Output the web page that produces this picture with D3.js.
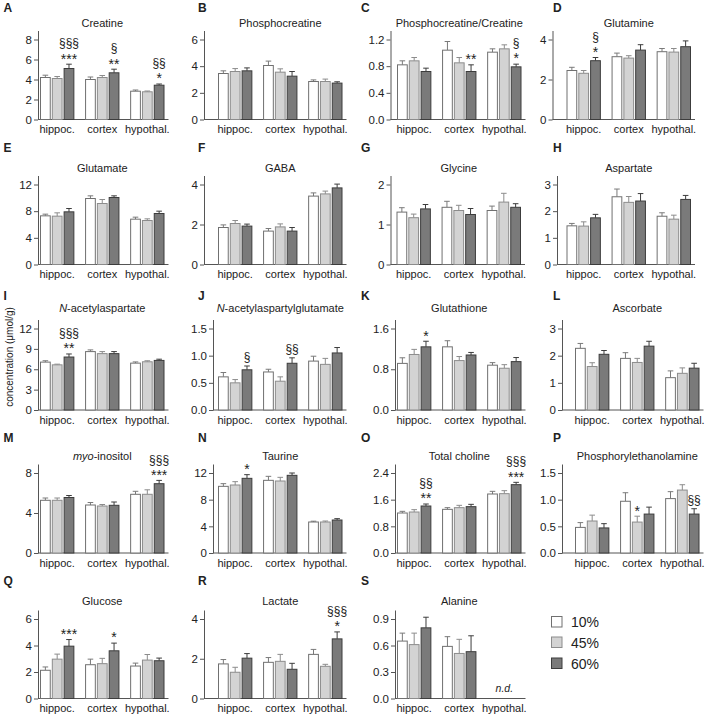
<!DOCTYPE html>
<html><head><meta charset="utf-8">
<script src="https://cdn.jsdelivr.net/npm/d3@7"></script>
<style>body{margin:0;background:#fff}svg{display:block;font-family:"Liberation Sans",Arial,sans-serif}</style>
</head><body><div id="chart"></div>
<script>
// ---------- DATA ----------
const regions = ["hippoc.", "cortex", "hypothal."];
const diets = ["10%", "45%", "60%"];
const letters = ["A","B","C","D","E","F","G","H","I","J","K","L","M","N","O","P","Q","R","S"];
const titles = ["Creatine","Phosphocreatine","Phosphocreatine/Creatine","Glutamine","Glutamate","GABA","Glycine","Aspartate",
  "N-acetylaspartate","N-acetylaspartylglutamate","Glutathione","Ascorbate","myo-inositol","Taurine","Total choline",
  "Phosphorylethanolamine","Glucose","Lactate","Alanine"];
const ticks = [[0,2,4,6,8],[0,2,4,6],[0,0.4,0.8,1.2],[0,2,4],[0,4,8,12],[0,2,4],[0,1,2],[0,1,2,3],
  [0,3,6,9,12],[0,0.5,1.0,1.5],[0,0.8,1.6],[0,1,2,3],[0,4,8],[0,4,8,12],[0,0.8,1.6,2.4],[0,0.5,1.0,1.5],
  [0,2,4,6],[0,2,4],[0,0.3,0.6,0.9]];
// means [region][diet], errors (SEM) [region][diet]
const creatineMean = [[4.2,4.1,5.1],[4.0,4.2,4.67],[2.83,2.77,3.43]];
const creatineErr  = [[0.23,0.2,0.43],[0.25,0.2,0.36],[0.12,0.08,0.12]];
const pcrMean = [[3.45,3.6,3.65],[4.05,3.55,3.25],[2.85,2.85,2.73]];
const pcrErr  = [[0.2,0.22,0.22],[0.33,0.25,0.35],[0.12,0.18,0.1]];
const pcrCrMean = [[0.82,0.88,0.72],[1.04,0.85,0.72],[1.01,1.06,0.79]];
const pcrCrErr  = [[0.06,0.05,0.05],[0.13,0.08,0.1],[0.05,0.06,0.04]];
const glnMean = [[2.45,2.31,2.94],[3.14,3.07,3.47],[3.39,3.37,3.64]];
const glnErr  = [[0.16,0.14,0.16],[0.18,0.12,0.27],[0.16,0.18,0.29]];
const gluMean = [[7.3,7.25,7.9],[9.9,9.15,10.05],[6.8,6.6,7.65]];
const gluErr  = [[0.25,0.5,0.5],[0.4,0.6,0.25],[0.3,0.25,0.35]];
const gabaMean = [[1.85,2.05,1.92],[1.67,1.88,1.67],[3.42,3.53,3.83]];
const gabaErr  = [[0.13,0.15,0.1],[0.13,0.15,0.18],[0.16,0.14,0.19]];
const glyMean = [[1.31,1.17,1.39],[1.43,1.35,1.25],[1.35,1.56,1.43]];
const glyErr  = [[0.11,0.09,0.11],[0.15,0.13,0.15],[0.11,0.22,0.09]];
const aspMean = [[1.45,1.44,1.75],[2.54,2.33,2.38],[1.81,1.7,2.44]];
const aspErr  = [[0.09,0.16,0.13],[0.29,0.22,0.28],[0.13,0.15,0.15]];
const naaMean = [[7.05,6.65,7.8],[8.6,8.3,8.3],[6.9,7.1,7.3]];
const naaErr  = [[0.2,0.1,0.45],[0.25,0.3,0.3],[0.18,0.15,0.18]];
const naagMean = [[0.61,0.5,0.74],[0.7,0.53,0.86],[0.9,0.84,1.05]];
const naagErr  = [[0.08,0.06,0.07],[0.05,0.08,0.1],[0.09,0.11,0.1]];
const gshMean = [[0.915,1.09,1.24],[1.24,0.97,1.08],[0.88,0.82,0.95]];
const gshErr  = [[0.11,0.1,0.11],[0.12,0.08,0.05],[0.05,0.07,0.08]];
const ascMean = [[2.27,1.6,2.05],[1.9,1.75,2.35],[1.19,1.35,1.54]];
const ascErr  = [[0.18,0.14,0.14],[0.21,0.15,0.18],[0.25,0.2,0.18]];
const insMean = [[5.27,5.27,5.55],[4.8,4.7,4.77],[5.87,5.87,6.93]];
const insErr  = [[0.23,0.23,0.2],[0.25,0.15,0.33],[0.3,0.45,0.33]];
const tauMean = [[10.0,10.2,11.2],[10.9,10.8,11.65],[4.65,4.65,4.95]];
const tauErr  = [[0.4,0.5,0.55],[0.6,0.55,0.35],[0.12,0.15,0.2]];
const tchoMean = [[1.2,1.23,1.41],[1.31,1.36,1.39],[1.77,1.78,2.05]];
const tchoErr  = [[0.05,0.07,0.06],[0.05,0.07,0.07],[0.08,0.09,0.07]];
const peMean = [[0.48,0.6,0.47],[0.97,0.58,0.73],[1.02,1.18,0.73]];
const peErr  = [[0.09,0.11,0.08],[0.16,0.11,0.13],[0.13,0.1,0.1]];
const glcMean = [[2.13,2.97,3.95],[2.55,2.63,3.6],[2.45,2.9,2.85]];
const glcErr  = [[0.25,0.38,0.5],[0.42,0.4,0.58],[0.22,0.42,0.2]];
const lacMean = [[1.74,1.32,2.03],[1.82,1.87,1.47],[2.22,1.62,3.0]];
const lacErr  = [[0.22,0.25,0.23],[0.24,0.35,0.3],[0.25,0.1,0.35]];
const alaMean = [[0.65,0.61,0.8],[0.59,0.51,0.53],null];
const alaErr  = [[0.09,0.13,0.12],[0.11,0.16,0.18],null];
const means = [creatineMean,pcrMean,pcrCrMean,glnMean,gluMean,gabaMean,glyMean,aspMean,naaMean,naagMean,
  gshMean,ascMean,insMean,tauMean,tchoMean,peMean,glcMean,lacMean,alaMean];
const errs = [creatineErr,pcrErr,pcrCrErr,glnErr,gluErr,gabaErr,glyErr,aspErr,naaErr,naagErr,
  gshErr,ascErr,insErr,tauErr,tchoErr,peErr,glcErr,lacErr,alaErr];
// significance marks: [panel, region, diet, lines bottom-to-top]
const marks = [
  [0,0,2,["***","§§§"]],[0,1,2,["**","§"]],[0,2,2,["*","§§"]],
  [2,1,2,["**"]],[2,2,2,["*","§"]],
  [3,0,2,["*","§"]],
  [8,0,2,["**","§§§"]],
  [9,0,2,["§"]],[9,1,2,["§§"]],
  [10,0,2,["*"]],
  [12,2,2,["***","§§§"]],
  [13,0,2,["*"]],
  [14,0,2,["**","§§"]],[14,2,2,["***","§§§"]],
  [15,1,1,["*"]],[15,2,2,["§§"]],
  [16,0,2,["***"]],[16,1,2,["*"]],
  [17,2,2,["*","§§§"]]
];
const yLabel = "concentration (\u03bcmol/g)";

// ---------- LAYOUT ----------
const W = 718, H = 716;
const rowBase = [119.5, 264.5, 410, 553, 698.5];
const rowTop  = [39.5, 184.5, 328.5, 473, 619];
const titleY  = [27, 172, 312, 459.5, 604.5];
const letterY = [12, 152, 300, 442, 585];
const letterX = [3.5, 198, 361, 553];
const axisX = [38,204,390.5,552.5, 38,204,390.5,557, 38,213,395,562, 38,213,395,562, 38,204,395];
const barX  = [40,218,397,566.5, 40,218,396.5,566.5, 40,218,397,575, 40,218,397,575, 40,218,397];
const spanW = 124.5;
const fills   = ["#ffffff", "#d3d3d3", "#7a7a7a"];
const strokes = ["#707070", "#8c8c8c", "#3c3c3c"];
const errCol  = ["#7a7a7a", "#8c8c8c", "#3c3c3c"];
const axisCol = "#555";
const textCol = "#222";

const svg = d3.select("#chart").append("svg").attr("width", W).attr("height", H);

titles.forEach((title, p) => {
  const row = Math.floor(p / 4), col = p % 4;
  const base = rowBase[row], top = rowTop[row];
  const tk = ticks[p], topTick = tk[tk.length - 1];
  const h = base - top;
  const y = d3.scaleLinear().domain([0, topTick * (h + 9) / h]).range([base, top - 9]);
  const x0 = d3.scaleBand().domain(regions).range([barX[p], barX[p] + spanW]).paddingInner(0.2376).paddingOuter(0);
  const x1 = d3.scaleBand().domain(diets).range([0, x0.bandwidth()]).paddingInner(0.09).paddingOuter(0);
  const g = svg.append("g");

  // letter
  g.append("text").attr("x", letterX[col]).attr("y", letterY[row]).attr("font-size", 12).attr("font-weight", "bold")
    .attr("fill", textCol).text(letters[p]);
  // title
  const tt = g.append("text").attr("x", barX[p] + spanW / 2).attr("y", titleY[row]).attr("text-anchor", "middle")
    .attr("font-size", 11).attr("fill", textCol);
  if (title.startsWith("N-")) { tt.append("tspan").attr("font-style","italic").text("N"); tt.append("tspan").text(title.slice(1)); }
  else if (title.startsWith("myo-")) { tt.append("tspan").attr("font-style","italic").text("myo"); tt.append("tspan").text(title.slice(3)); }
  else tt.text(title);

  // y axis
  const dec = tk.some(v => !Number.isInteger(v));
  const ax = g.append("g").attr("transform", `translate(${axisX[p]},0)`)
    .call(d3.axisLeft(y).tickValues(tk).tickSizeOuter(0).tickSizeInner(4).tickPadding(2)
      .tickFormat(dec ? d3.format(".1f") : d3.format("d")));
  ax.selectAll("path,line").attr("stroke", axisCol);
  ax.selectAll("text").attr("font-size", 11.5).attr("fill", textCol).attr("font-family", "Liberation Sans, Arial, sans-serif");
  // x baseline
  g.append("line").attr("x1", axisX[p]).attr("x2", barX[p] + spanW + 4).attr("y1", base).attr("y2", base).attr("stroke", axisCol);
  // x labels
  g.selectAll(".xl").data(regions).enter().append("text")
    .attr("x", r => x0(r) + x0.bandwidth() / 2).attr("y", base + 13.5).attr("text-anchor", "middle")
    .attr("font-size", 11).attr("fill", textCol).text(r => r);

  // bars
  const m = means[p], e = errs[p];
  regions.forEach((r, ri) => {
    if (!m[ri]) {
      g.append("text").attr("x", x0(r) + x0.bandwidth() / 2).attr("y", base - 6.5).attr("text-anchor", "middle")
        .attr("font-size", 10.5).attr("font-style", "italic").attr("fill", textCol).text("n.d.");
      return;
    }
    diets.forEach((d, di) => {
      const bx = x0(r) + x1(d), bw = x1.bandwidth();
      const v = m[ri][di], ev = e[ri][di];
      const cx = bx + bw / 2;
      g.append("line").attr("x1", cx).attr("x2", cx).attr("y1", y(v)).attr("y2", y(v + ev)).attr("stroke", errCol[di]);
      g.append("line").attr("x1", cx - 2.8).attr("x2", cx + 2.8).attr("y1", y(v + ev)).attr("y2", y(v + ev)).attr("stroke", errCol[di]);
      g.append("rect").attr("x", bx + 0.5).attr("y", y(v)).attr("width", bw - 1).attr("height", base - y(v))
        .attr("fill", fills[di]).attr("stroke", strokes[di]).attr("stroke-width", 1);
    });
  });

  // significance marks
  marks.filter(mk => mk[0] === p).forEach(([pp, ri, di, lines]) => {
    const v = m[ri][di] + e[ri][di];
    const cx = x0(regions[ri]) + x1(diets[di]) + x1.bandwidth() / 2;
    lines.forEach((s, li) => {
      const center = y(v) - 8.5 - 12 * li;
      const star = s.includes("*");
      g.append("text").attr("x", cx).attr("y", star ? center + 7.8 : center + 3.6).attr("text-anchor", "middle")
        .attr("font-size", star ? 14 : 12).attr("fill", textCol).text(s);
    });
  });
});

// y label
svg.append("text").attr("transform", "translate(13,357) rotate(-90)").attr("text-anchor", "middle")
  .attr("font-size", 10).attr("fill", textCol).text(yLabel);

// legend
const legY = [616.5, 637, 658];
diets.forEach((d, i) => {
  svg.append("rect").attr("x", 551.5).attr("y", legY[i]).attr("width", 10.5).attr("height", 10.5)
    .attr("fill", fills[i]).attr("stroke", strokes[i]);
  svg.append("text").attr("x", 571).attr("y", legY[i] + 10.5).attr("font-size", 14).attr("fill", textCol).text(d);
});
</script></body></html>
